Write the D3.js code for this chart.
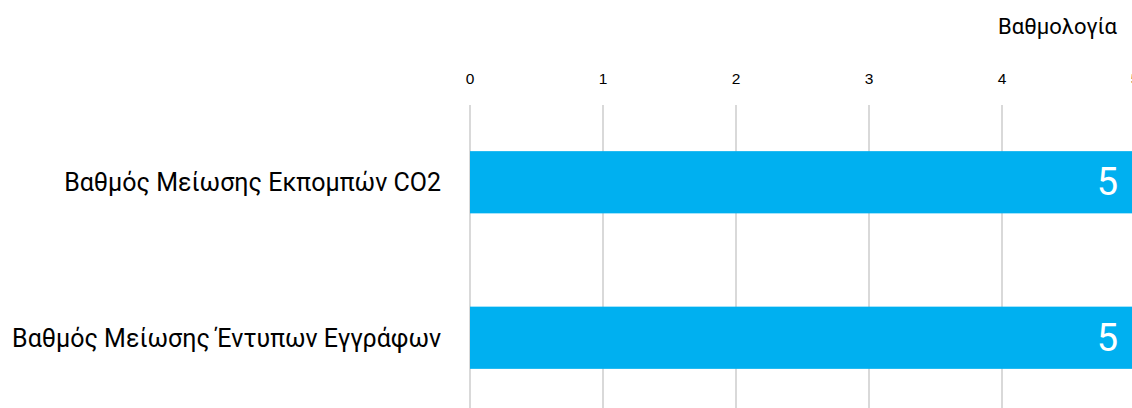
<!DOCTYPE html>
<html>
<head>
<meta charset="utf-8">
<script src="https://cdn.jsdelivr.net/npm/d3@7"></script>
<style>
  body { margin: 0; background: #fff; overflow: hidden; }
</style>
</head>
<body>
<div id="chart"></div>
<script>
var categories = ['Βαθμός Μείωσης Εκπομπών CO2', 'Βαθμός Μείωσης Έντυπων Εγγράφων'];
var values = [5, 5];
var ticks = [0, 1, 2, 3, 4, 5];
var axisTitle = 'Βαθμολογία';

var width = 1132, height = 408;

var svg = d3.select('#chart').append('svg')
    .attr('width', width)
    .attr('height', height);

var x = d3.scaleLinear().domain([0, 5]).range([470, 1135]);
var y = d3.scaleBand().domain(categories)
    .range([104.5, 415.5])
    .paddingInner(0.6)
    .paddingOuter(0.3);

// gridlines
svg.selectAll('.grid')
    .data(ticks)
    .enter()
    .append('line')
    .attr('x1', function(d) { return x(d); })
    .attr('x2', function(d) { return x(d); })
    .attr('y1', 105)
    .attr('y2', height)
    .style('stroke', '#d9d9d9')
    .style('stroke-width', 2);

// tick labels
svg.selectAll('.tick')
    .data(ticks)
    .enter()
    .append('text')
    .attr('x', function(d) { return x(d); })
    .attr('y', 84)
    .style('text-anchor', 'middle')
    .style('font-family', 'Liberation Sans, Arial, sans-serif')
    .style('font-size', '15.5px')
    .style('fill', '#000')
    .text(function(d) { return d; });

// axis title
svg.append('text')
    .attr('x', 1117)
    .attr('y', 34)
    .style('text-anchor', 'end')
    .style('font-family', 'Roboto, sans-serif')
    .style('font-size', '22px')
    .style('fill', '#000')
    .text(axisTitle);

// bars
svg.selectAll('.bar')
    .data(values)
    .enter()
    .append('rect')
    .attr('x', x(0))
    .attr('y', function(d, i) { return y(categories[i]); })
    .attr('width', function(d) { return x(d) - x(0); })
    .attr('height', y.bandwidth())
    .style('fill', '#00b0f0');

// value labels
svg.selectAll('.val')
    .data(values)
    .enter()
    .append('text')
    .attr('x', 1118)
    .attr('y', function(d, i) { return y(categories[i]) + y.bandwidth() / 2 + 13; })
    .style('text-anchor', 'end')
    .style('font-family', 'Roboto, sans-serif')
    .style('font-size', '38px')
    .style('fill', '#fff')
    .text(function(d) { return d; });

// category labels
svg.selectAll('.cat')
    .data(categories)
    .enter()
    .append('text')
    .attr('x', 441)
    .attr('y', function(d) { return y(d) + y.bandwidth() / 2 + 9; })
    .style('text-anchor', 'end')
    .style('font-family', 'Roboto, sans-serif')
    .style('font-size', '25px')
    .style('fill', '#000')
    .text(function(d) { return d; });
</script>
</body>
</html>
